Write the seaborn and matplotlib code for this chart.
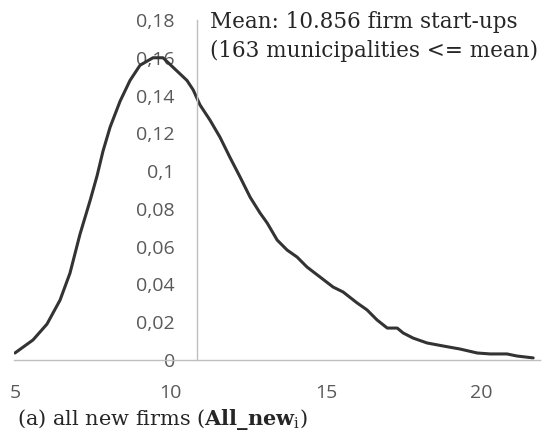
import numpy as np
import pandas as pd
from matplotlib import pyplot as plt
import seaborn as sns

sns.set_style('white')
plt.rcParams['mathtext.fontset'] = 'dejavuserif'

# values
start_ups = [5.0, 5.58, 6.03, 6.45, 6.77, 7.09, 7.42, 7.64, 7.83, 8.06, 8.38, 8.70,
             9.02, 9.12, 9.44, 9.76, 10.08, 10.53, 10.73, 10.95, 11.27, 11.59,
             11.92, 12.24, 12.56, 12.88, 13.11, 13.43, 13.75, 14.07, 14.39, 14.81,
             15.23, 15.55, 16.0, 16.32, 16.64, 16.97, 17.29, 17.48, 17.8, 18.25,
             18.77, 19.31, 19.86, 20.28, 20.82, 21.14, 21.66]
density = [0.0037, 0.0106, 0.019, 0.0317, 0.046, 0.0665, 0.0846, 0.0975, 0.1105,
           0.1233, 0.137, 0.148, 0.156, 0.157, 0.160, 0.160, 0.155, 0.148, 0.143,
           0.135, 0.127, 0.118, 0.107, 0.0968, 0.0862, 0.0778, 0.0725, 0.0635,
           0.0582, 0.0545, 0.0492, 0.0439, 0.0386, 0.036, 0.0302, 0.0265, 0.0212,
           0.0169, 0.0169, 0.0143, 0.0116, 0.009, 0.0074, 0.0058, 0.0037, 0.0032,
           0.0032, 0.0021, 0.0011]
mean_val = 10.856
y_ticks = [0, 0.02, 0.04, 0.06, 0.08, 0.1, 0.12, 0.14, 0.16, 0.18]
y_labels = ['0', '0,02', '0,04', '0,06', '0,08', '0,1', '0,12', '0,14', '0,16', '0,18']
x_ticks = [5, 10, 15, 20]

df = pd.DataFrame({'x': start_ups, 'y': density})

fig = plt.figure(figsize=(5.46, 4.41), dpi=100)
ax = fig.add_axes([0.02564, 0.1837, 0.9634, 0.7710])
sns.lineplot(x='x', y='y', data=df, color='#333333', linewidth=2.2, ax=ax)

ax.set_xlim(4.97, 21.88)
ax.set_ylim(0, 0.18)
ax.set_xlabel('')
ax.set_ylabel('')
for s in ['top', 'right']:
    ax.spines[s].set_visible(False)
ax.spines['left'].set_position(('data', mean_val))
for s in ['left', 'bottom']:
    ax.spines[s].set_color('#bfbfbf')
    ax.spines[s].set_linewidth(1.0)

ax.set_yticks(y_ticks)
ax.set_yticklabels(y_labels)
ax.set_xticks(x_ticks)
ax.tick_params(length=0, labelsize=14, labelcolor='#595959')
ax.tick_params(axis='x', pad=17)
ax.tick_params(axis='y', pad=16)
for lab in ax.get_xticklabels() + ax.get_yticklabels():
    lab.set_family('Open Sans')

ax.text(11.27, 0.1847, 'Mean: 10.856 firm start-ups\n(163 municipalities <= mean)',
        family='DejaVu Serif', fontsize=15.5, color='#262626', va='top', ha='left',
        linespacing=1.4)

fig.text(0.032, 0.037, r'(a) all new firms ($\mathbf{All\_new}_{\mathrm{i}}$)',
         family='DejaVu Serif', fontsize=15, color='#262626')

plt.savefig('out.png', dpi=100)
